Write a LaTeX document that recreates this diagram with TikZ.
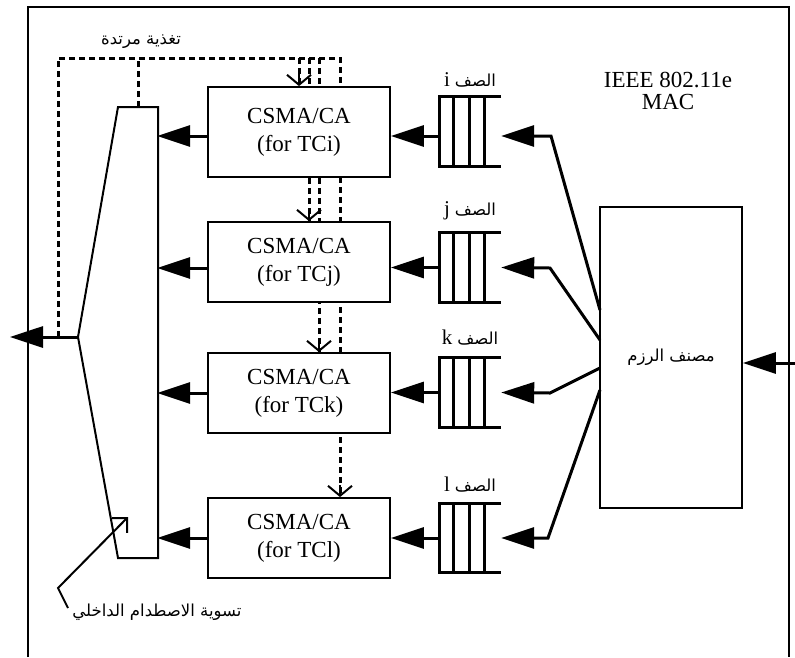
\documentclass[tikz,border=0pt]{standalone}
\usepackage{fontspec}
\setmainfont{Liberation Serif}
\newfontfamily\arabicfont[Script=Arabic]{DejaVu Sans}
\TeXXeTstate=1
\usetikzlibrary{arrows.meta,calc}
\newcommand\qlabel[1]{{\fontsize{21}{21}\selectfont #1}\hspace{5pt}{\arabicfont\fontsize{16.5}{18}\selectfont\beginR الصف\endR}}
\begin{document}
\begin{tikzpicture}[x=1pt,y=-1pt,
  frame/.style={line width=1.6pt},
  csma/.style={draw,line width=1.8pt,fill=white,minimum width=182pt,inner sep=0pt,align=center,font=\fontsize{23}{28}\selectfont},
  clsbox/.style={draw,line width=1.8pt,fill=white,minimum width=142pt,minimum height=301pt,inner sep=0pt},
  qnode/.style={minimum width=61pt,minimum height=69pt,inner sep=0pt},
  qline/.style={line width=3pt},
  fb/.style={line width=3pt,dash pattern=on 6pt off 4pt},
  big/.style={-{Triangle[length=33pt,width=21pt]},line width=3pt},
  barb/.style={-{Straight Barb[length=10pt,width=24pt,line width=2pt]}},
  artext/.style={font=\arabicfont\fontsize{16.5}{18}\selectfont},
  latin/.style={font=\fontsize{23}{22}\selectfont,align=center}
]
\useasboundingbox (0,0) rectangle (795,657);

% outer frame
\draw[frame] (28,657) -- (28,7) -- (789,7) -- (789,657);

% coordinates
\coordinate (mt) at (138,107);
\coordinate (mo) at (78,337);
\coordinate (out) at (10,337);
\coordinate (fbL) at (58,337);
\coordinate (fbTL) at (58,58);
\coordinate (fbTM) at (138,58);
\coordinate (fbTR) at (340,58);
\coordinate (fbA) at (299,58);
\coordinate (fbB) at (309,58);
\coordinate (fbC) at (319,58);

% CSMA boxes (positions)
\path (299,132) node[csma,minimum height=90pt] (ci) {CSMA/CA\\(for TCi)};
\path (299,262) node[csma,minimum height=80pt] (cj) {CSMA/CA\\(for TCj)};
\path (299,393) node[csma,minimum height=80pt] (ck) {CSMA/CA\\(for TCk)};
\path (299,538) node[csma,minimum height=80pt] (cl) {CSMA/CA\\(for TCl)};

% feedback dashed lines (behind boxes)
\draw[fb] (fbL) -- (fbTL) -- (fbTR) -- (fbTR |- cl.north);
\draw[fb] (mt) -- (fbTM);
\draw[fb] (fbA) -- (fbA |- ci.north);
\draw[fb] (fbB) -- (fbB |- cj.north);
\draw[fb] (fbC) -- (fbC |- ck.north);

% redraw boxes on top
\path (299,132) node[csma,minimum height=90pt] {CSMA/CA\\(for TCi)};
\path (299,262) node[csma,minimum height=80pt] {CSMA/CA\\(for TCj)};
\path (299,393) node[csma,minimum height=80pt] {CSMA/CA\\(for TCk)};
\path (299,538) node[csma,minimum height=80pt] {CSMA/CA\\(for TCl)};

% dashed arrow heads
\draw[line width=2pt,barb] ([yshift=12pt]ci.north) -- (ci.north);
\draw[line width=2pt,barb] ([xshift=10pt,yshift=12pt]cj.north) -- ([xshift=10pt]cj.north);
\draw[line width=2pt,barb] ([xshift=20pt,yshift=12pt]ck.north) -- ([xshift=20pt]ck.north);
\draw[line width=2pt,barb] ([xshift=41pt,yshift=12pt]cl.north) -- ([xshift=41pt]cl.north);

% multiplexer
\draw[line width=2pt,fill=white] (118,107) -- (158,107) -- (158,558) -- (118,558) -- (mo) -- cycle;

% output
\draw[big] (mo) -- (out);

% box -> mux arrows
\draw[big] ([yshift=-4pt]ci.west) -- ++(-50,0);
\draw[big] ([yshift=-6pt]cj.west) -- ++(-50,0);
\draw[big] (ck.west) -- ++(-50,0);
\draw[big] (cl.west) -- ++(-50,0);

% queues
\foreach \n/\y in {qi/131.5, qj/267.5, qk/392.5, ql/538}{
  \path (470.5,\y) node[qnode] (\n) {};
  \draw[qline] (\n.north east) -- (\n.north west) -- (\n.south west) -- (\n.south east);
  \foreach \d in {14,30,45}
    \draw[qline] ([xshift=\d pt]\n.north west) -- ([xshift=\d pt]\n.south west);
}
\node[inner sep=0pt] (li) at (470,80) {\qlabel{i}};
\node[inner sep=0pt] (lj) at (470,211) {\qlabel{j}};
\node[inner sep=0pt] (lk) at (470,338) {\qlabel{k}};
\node[inner sep=0pt] (ll) at (470,485) {\qlabel{l}};

% queue -> box arrows
\draw[big] ([yshift=-4.5pt]qi.west) -- ([yshift=-4pt]ci.east);
\draw[big] (qj.west) -- (cj.east |- qj.west);
\draw[big] (qk.west) -- (ck.east |- qk.west);
\draw[big] (ql.west) -- (cl.east |- ql.west);

% classifier
\path (671,357.5) node[clsbox] (cls) {};
\node[artext] at (cls) {\beginR مصنف الرزم\endR};
\coordinate (in) at (795,363);
\draw[big] (in) -- (in -| cls.east);

\coordinate (ei) at (600,310);
\coordinate (ej) at (600,340);
\coordinate (ek) at (600,368);
\coordinate (el) at (600,390);
\draw[big] (ei) -- (551,136) -- ([yshift=-4.5pt]qi.east);
\draw[big] (ej) -- (550,268) -- (qj.east);
\draw[big] (ek) -- (550,393) -- (qk.east);
\draw[big] (el) -- (548,538) -- (ql.east);

% IEEE label
\node[latin] (mac) at (668,91) {IEEE 802.11e\\MAC};

% feedback label
\node[artext] (fbl) at (141,42) {\beginR تغذية مرتدة\endR};

% collision label and arrow
\coordinate (coll) at (128,517);
\node[artext] (coltxt) at (157,612) {\beginR تسوية الاصطدام الداخلي\endR};
\draw[line width=2pt,-{Straight Barb[length=10.6pt,width=21pt]}] (68,608) -- (58,588) -- (coll);
\end{tikzpicture}
\end{document}
